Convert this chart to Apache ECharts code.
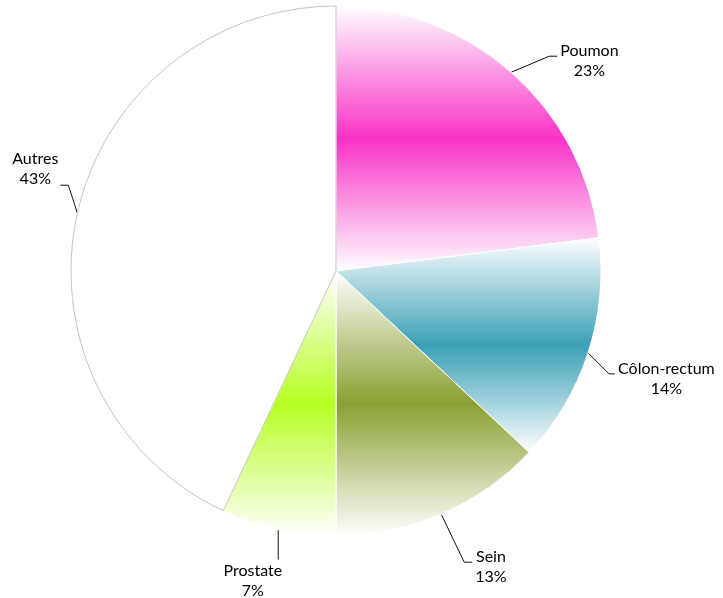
<!DOCTYPE html>
<html>
<head>
<meta charset="utf-8">
<script src="https://cdn.jsdelivr.net/npm/echarts@6/dist/echarts.min.js"></script>
<style>
  html, body { margin: 0; padding: 0; background: #fff; }
  #chart { width: 723px; height: 598px; }
</style>
</head>
<body>
<div id="chart"></div>
<script>
// Cancer types and their share of cases (%)
const categories = ['Poumon', 'Côlon-rectum', 'Sein', 'Prostate', 'Autres'];
const shares = [23, 14, 13, 7, 43];
const baseColors = ['#f932c8', '#3aa0b6', '#8aa032', '#b6ff22', '#ffffff'];

// Leader line shape relative to the slice edge: bend point, end point,
// and which side of the line the label sits on.
const leaders = [
  { bend: [38, -16], end: [46, -16], side: 'right' },
  { bend: [21, 21], end: [27, 21], side: 'right' },
  { bend: [23, 48], end: [31, 48], side: 'right' },
  { bend: [0, 30], end: [0, 30], side: 'below' },
  { bend: [-9, -28], end: [-17, -28], side: 'left' }
];

function fade(color) {
  if (color === '#ffffff') return '#ffffff';
  return {
    type: 'linear', x: 0, y: 0, x2: 0, y2: 1,
    colorStops: [
      { offset: 0, color: '#ffffff' },
      { offset: 0.5, color: color },
      { offset: 1, color: '#ffffff' }
    ]
  };
}

const data = categories.map((name, i) => ({
  name: name,
  value: shares[i],
  itemStyle: {
    color: fade(baseColors[i]),
    borderColor: name === 'Autres' ? '#c4c4c4' : '#ffffff',
    borderWidth: 1
  }
}));

const chart = echarts.init(document.getElementById('chart'));
chart.setOption({
  animation: false,
  series: [{
    type: 'pie',
    center: [336, 271],
    radius: 265,
    startAngle: 90,
    clockwise: true,
    data: data,
    label: {
      show: true,
      position: 'outside',
      formatter: '{b}\n{d}%',
      fontFamily: 'Lato',
      fontSize: 16,
      lineHeight: 20,
      color: '#000',
      align: 'center',
      overflow: 'none'
    },
    labelLine: {
      show: true,
      length: 20,
      length2: 8,
      lineStyle: { color: '#111', width: 1 }
    },
    emphasis: { disabled: true },
    labelLayout: function (p) {
      const pts = p.labelLinePoints;
      if (!pts) return {};
      const e = pts[0];
      const L = leaders[p.dataIndex];
      const b = [e[0] + L.bend[0], e[1] + L.bend[1]];
      const t = [e[0] + L.end[0], e[1] + L.end[1]];
      const w = p.labelRect.width;
      let x, y, va;
      if (L.side === 'right') {
        x = t[0] + 3 + w / 2; y = t[1] - 15; va = 'top';
      } else if (L.side === 'left') {
        x = t[0] - 2 - w / 2; y = t[1] + 4; va = 'bottom';
      } else {
        x = t[0] + 4 - w / 2; y = t[1] + 1; va = 'top';
      }
      return {
        x: x, y: y, align: 'center', verticalAlign: va,
        labelLinePoints: [e, b, t]
      };
    }
  }]
});
</script>
</body>
</html>
